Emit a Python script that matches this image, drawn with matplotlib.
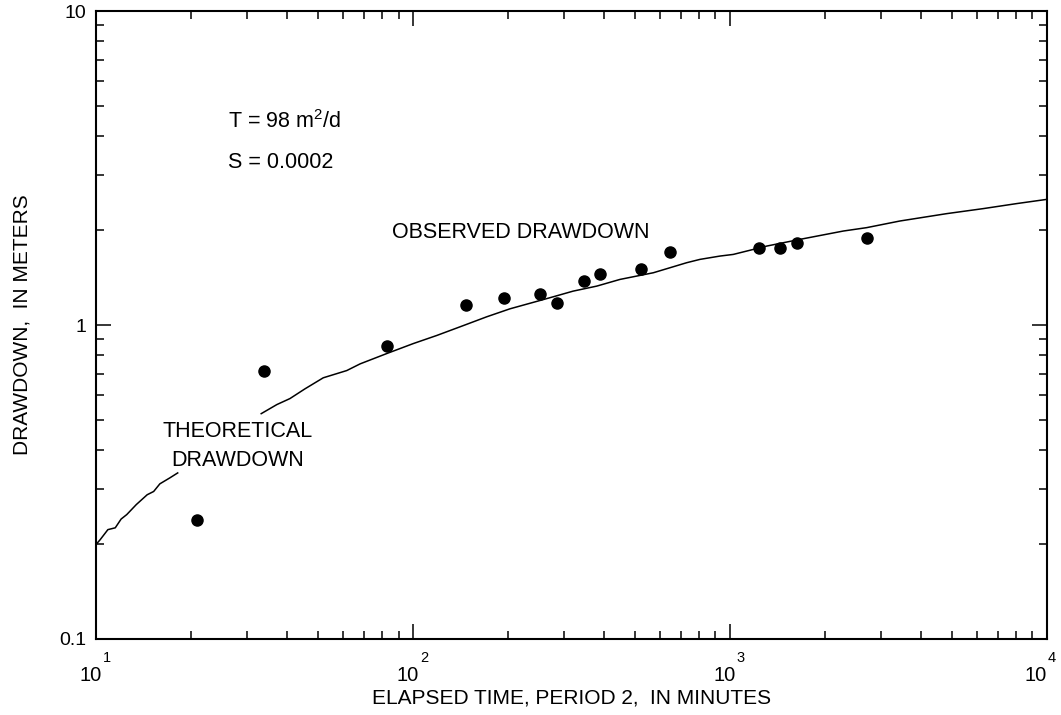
import matplotlib
matplotlib.use('Agg')
import matplotlib.pyplot as plt
from matplotlib.ticker import FixedLocator, FixedFormatter, LogLocator, NullFormatter

plt.rcParams['font.family'] = ['Liberation Sans', 'DejaVu Sans']
plt.rcParams['mathtext.fontset'] = 'custom'
plt.rcParams['mathtext.rm'] = 'Liberation Sans'
plt.rcParams['mathtext.it'] = 'Liberation Sans:italic'

# observed drawdown, period 2
obs_time = [20.8, 33.9, 82.6, 146.9, 194, 252, 284, 346, 390, 524, 647, 1232, 1438, 1627, 2704]
obs_draw = [0.240, 0.716, 0.856, 1.154, 1.215, 1.257, 1.174, 1.379, 1.455, 1.503, 1.703, 1.758, 1.758, 1.823, 1.888]

# theoretical curve (gap where the label sits)
theo_time_a = [10.0, 10.3, 10.9, 11.5, 12.0, 12.5, 13.4, 14.5, 15.2, 15.9, 17.1, 18.1]
theo_draw_a = [0.200, 0.207, 0.223, 0.226, 0.241, 0.249, 0.268, 0.288, 0.295, 0.312, 0.326, 0.338]
theo_time_b = [33.2, 37.2, 40.9, 45.6, 52.1, 61.8, 68.1, 82.6, 100.3, 118.8, 144.2, 170.8,
               202.2, 251.6, 277, 320, 379.8, 449.8, 573, 730, 804, 930, 1024, 1306, 1663,
               2278, 2698, 3436, 4827, 6296, 8025, 10000]
theo_draw_b = [0.522, 0.558, 0.583, 0.626, 0.679, 0.716, 0.752, 0.811, 0.873, 0.926, 0.996, 1.062,
               1.126, 1.197, 1.230, 1.282, 1.330, 1.397, 1.467, 1.579, 1.618, 1.658, 1.678, 1.784, 1.874,
               1.992, 2.042, 2.144, 2.263, 2.348, 2.436, 2.513]

x_ticks = [10, 100, 1000, 10000]
x_exps = ['1', '2', '3', '4']
y_ticks = [0.1, 1, 10]
y_labels = ['0.1', '1', '10']

fig = plt.figure(figsize=(10.61, 7.15), dpi=100)
ax = fig.add_axes([0.0905, 0.1063, 0.8963, 0.8783])

ax.plot(theo_time_a, theo_draw_a, color='black', lw=1.1)
ax.plot(theo_time_b, theo_draw_b, color='black', lw=1.1)
ax.plot(obs_time, obs_draw, 'o', color='black', markersize=8)

ax.set_xscale('log')
ax.set_yscale('log')
ax.set_xlim(10, 1e4)
ax.set_ylim(0.1, 10)

ax.xaxis.set_major_locator(FixedLocator(x_ticks))
ax.xaxis.set_major_formatter(NullFormatter())
ax.xaxis.set_minor_locator(LogLocator(base=10, subs=range(2, 10)))
ax.xaxis.set_minor_formatter(NullFormatter())
ax.yaxis.set_major_locator(FixedLocator(y_ticks))
ax.yaxis.set_major_formatter(FixedFormatter(y_labels))
ax.yaxis.set_minor_locator(LogLocator(base=10, subs=range(2, 10)))
ax.yaxis.set_minor_formatter(NullFormatter())

ax.tick_params(which='both', direction='in', top=True, right=True, width=1.1, labelsize=14)
ax.tick_params(which='major', length=11)
ax.tick_params(which='minor', length=6)
ax.tick_params(axis='y', pad=7)
for sp in ax.spines.values():
    sp.set_linewidth(1.5)

# power-of-ten labels with a raised exponent, as in the original
for i, (t, e) in enumerate(zip(x_ticks, x_exps)):
    dx = -8 if i == len(x_ticks) - 1 else -3.6
    ax.annotate('10', xy=(t, 0), xycoords=('data', 'axes fraction'),
                xytext=(dx, -30.5), textcoords='offset points',
                ha='center', va='baseline', fontsize=14.5)
    ax.annotate(e, xy=(t, 0), xycoords=('data', 'axes fraction'),
                xytext=(dx + 8.5, -9), textcoords='offset points',
                ha='left', va='top', fontsize=10.5)

ax.set_xlabel('ELAPSED TIME, PERIOD 2,  IN MINUTES', fontsize=15, labelpad=32)
ax.set_ylabel('DRAWDOWN,  IN METERS', fontsize=15, labelpad=20)

ax.text(26.1, 4.45, 'T = 98 m$^{2}$/d', fontsize=15.5, va='center', ha='left')
ax.text(26.1, 3.30, 'S = 0.0002', fontsize=15.5, va='center', ha='left')
ax.text(219, 1.97, 'OBSERVED DRAWDOWN', fontsize=15.5, va='center', ha='center')
ax.text(27.9, 0.412, 'THEORETICAL\nDRAWDOWN', fontsize=15.5, va='center', ha='center',
        multialignment='center', linespacing=1.5)

fig.savefig('out.png', dpi=100)
